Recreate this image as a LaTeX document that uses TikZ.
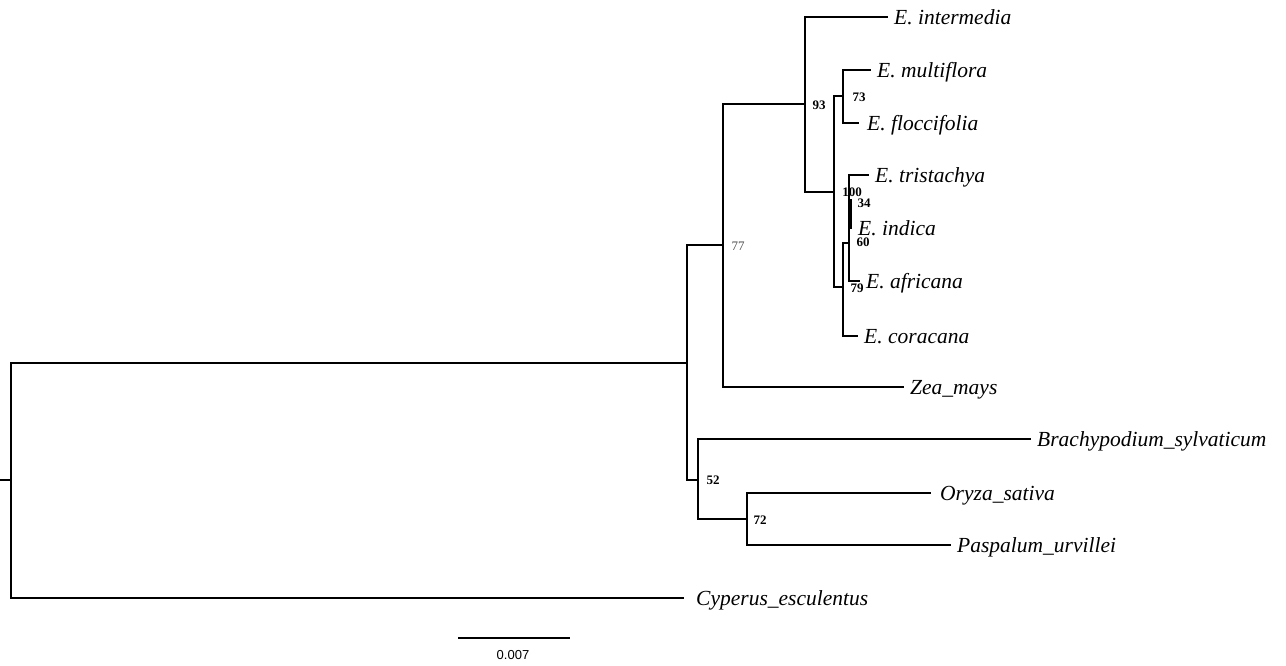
\documentclass[tikz,border=0pt]{standalone}
\usepackage{fontspec}
\setmainfont{Liberation Serif}
\newfontfamily\barfont{Liberation Sans}
\begin{document}
\begin{tikzpicture}[x=1pt,y=-1pt,
  br/.style={line width=2.5pt, line cap=rect, line join=miter},
  tip/.style={anchor=base west, inner sep=0pt, xshift=7pt, yshift=-7.5pt, font=\fontsize{21.5}{24}\selectfont\itshape},
  bs/.style={inner sep=0pt, font=\fontsize{13}{15}\selectfont\bfseries},
  bsl/.style={inner sep=0pt, font=\fontsize{13}{15}\selectfont, text=black!70}]
\useasboundingbox (0,0) rectangle (1286,666);
% internal nodes
\coordinate (stub) at (1,480);
\coordinate (root) at (11,480);
\coordinate (A) at (687,363);
\coordinate (B77) at (723,245);
\coordinate (C52) at (698,480);
\coordinate (N93) at (805,104);
\coordinate (N2) at (834,192);
\coordinate (N73) at (843,96);
\coordinate (N3) at (843,287);
\coordinate (N60) at (849,243);
\coordinate (N100) at (851,200);
\coordinate (N72) at (747,519);
% tips
\coordinate (inter) at (887,17);
\coordinate (multi) at (870,70);
\coordinate (flocc) at (858,123);
\coordinate (tris) at (868,175);
\coordinate (indica) at (851,228);
\coordinate (afri) at (859,281);
\coordinate (cora) at (857,336);
\coordinate (zea) at (903,387);
\coordinate (brachy) at (1030,439);
\coordinate (oryza) at (930,493);
\coordinate (pasp) at (950,545);
\coordinate (cyp) at (683,598);
% branches
\draw[br] (stub) -- (root);
\draw[br] (root) |- (A);
\draw[br] (root) |- (cyp);
\draw[br] (A) |- (B77);
\draw[br] (A) |- (C52);
\draw[br] (B77) |- (N93);
\draw[br] (B77) |- (zea);
\draw[br] (N93) |- (inter);
\draw[br] (N93) |- (N2);
\draw[br] (N2) |- (N73);
\draw[br] (N2) |- (N3);
\draw[br] (N73) |- (multi);
\draw[br] (N73) |- (flocc);
\draw[br] (N3) |- (N60);
\draw[br] (N3) |- (cora);
\draw[br] (N60) |- (tris);
\draw[br] (N60) |- (afri);
\draw[br] (N100) -- (indica);
\draw[br] (C52) |- (brachy);
\draw[br] (C52) |- (N72);
\draw[br] (N72) |- (oryza);
\draw[br] (N72) |- (pasp);
% tip labels
\node[tip] (tinter) at (inter) {E. intermedia};
\node[tip] (tmulti) at (multi) {E. multiflora};
\node[tip, xshift=2pt] (tflocc) at (flocc) {E. floccifolia};
\node[tip] (ttris) at (tris) {E. tristachya};
\node[tip] (tindica) at (indica) {E. indica};
\node[tip] (tafri) at (afri) {E. africana};
\node[tip] (tcora) at (cora) {E. coracana};
\node[tip] (tzea) at (zea) {Zea\_mays};
\node[tip] (tbrachy) at (brachy) {Brachypodium\_sylvaticum};
\node[tip, xshift=3pt] (toryza) at (oryza) {Oryza\_sativa};
\node[tip] (tpasp) at (pasp) {Paspalum\_urvillei};
\node[tip, xshift=6pt] (tcyp) at (cyp) {Cyperus\_esculentus};
% support values
\node[bs] (l93) at (819,105) {93};
\node[bs] (l73) at (859,97) {73};
\node[bs] (l100) at (852,192) {100};
\node[bs] (l34) at (864,203) {34};
\node[bs] (l60) at (863,242) {60};
\node[bs] (l79) at (857,288) {79};
\node[bsl] (l77) at (738,246) {77};
\node[bs] (l52) at (713,480) {52};
\node[bs] (l72) at (760,520) {72};
% scale bar
\coordinate (sb1) at (458,638);
\coordinate (sb2) at (570,638);
\draw[line width=2pt] (sb1) -- (sb2);
\node[inner sep=0pt, font=\barfont\fontsize{13}{15}\selectfont] (sbl) at (513,655) {0.007};
\end{tikzpicture}
\end{document}
